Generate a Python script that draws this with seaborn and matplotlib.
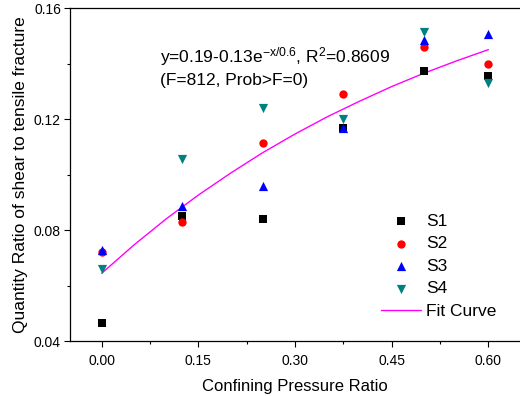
import numpy as np
import pandas as pd
import matplotlib
matplotlib.use("Agg")
import matplotlib.pyplot as plt
import seaborn as sns

# ---- data ----
pressure = [0.0, 0.125, 0.25, 0.375, 0.5, 0.6]
s1 = [0.0464, 0.0849, 0.0839, 0.1167, 0.1374, 0.1356]
s2 = [0.0722, 0.0830, 0.1115, 0.1291, 0.1458, 0.1397]
s3 = [0.0728, 0.0887, 0.0957, 0.1169, 0.1486, 0.1507]
s4 = [0.0659, 0.1055, 0.1239, 0.1200, 0.1515, 0.1329]
series_names = ["S1", "S2", "S3", "S4"]

fit_x = [0.0, 0.05, 0.1, 0.15, 0.2, 0.25, 0.3, 0.35, 0.4, 0.45, 0.5, 0.55, 0.6]
fit_y = [0.0644, 0.0746, 0.0840, 0.0926, 0.1005, 0.1079, 0.1146, 0.1208,
         0.1264, 0.1317, 0.1365, 0.1409, 0.1450]

x_ticks = [0.0, 0.15, 0.30, 0.45, 0.60]
x_tick_labels = ["0.00", "0.15", "0.30", "0.45", "0.60"]
y_ticks = [0.04, 0.08, 0.12, 0.16]
y_tick_labels = ["0.04", "0.08", "0.12", "0.16"]

sns.set_theme(style="ticks")
plt.rcParams["font.family"] = ["Liberation Sans", "DejaVu Sans"]
plt.rcParams["mathtext.fontset"] = "custom"
plt.rcParams["mathtext.rm"] = "Liberation Sans"
plt.rcParams["mathtext.default"] = "regular"

fig = plt.figure(figsize=(5.2, 3.96), dpi=100)
ax = fig.add_axes([70 / 520, 1 - 341 / 396, 450 / 520, 333 / 396])

styles = [
    dict(marker="s", color="black", s=26),
    dict(marker="o", color="red", s=36),
    dict(marker="^", color="blue", s=44),
    dict(marker="v", color="#008080", s=44),
]
values = [s1, s2, s3, s4]
for name, vals, st in zip(series_names, values, styles):
    df = pd.DataFrame({"x": pressure, "y": vals})
    sns.scatterplot(data=df, x="x", y="y", ax=ax, marker=st["marker"],
                    color=st["color"], s=st["s"], linewidth=0, label=name,
                    zorder=3)

sns.lineplot(x=fit_x, y=fit_y, ax=ax, color="#FF00FF", linewidth=1.0,
             label="Fit Curve", zorder=2)

ax.set_xlim(-0.0492, 0.649)
ax.set_ylim(0.04, 0.16)
ax.set_xticks(x_ticks)
ax.set_xticklabels(x_tick_labels)
ax.set_yticks(y_ticks)
ax.set_yticklabels(y_tick_labels)
ax.set_xticks([0.075, 0.225, 0.375, 0.525], minor=True)
ax.set_yticks([0.06, 0.10, 0.14], minor=True)
ax.tick_params(axis="both", which="major", direction="out", length=4.5,
               width=0.8, labelsize=10, colors="black", pad=2)
ax.tick_params(axis="x", which="major", pad=5)
ax.tick_params(axis="both", which="minor", direction="out", length=2.5,
               width=0.8, colors="black")

for sp in ["left", "bottom", "top"]:
    ax.spines[sp].set_color("black")
    ax.spines[sp].set_linewidth(0.9)
ax.spines["right"].set_visible(False)

ax.set_xlabel("Confining Pressure Ratio", fontsize=12, color="black", labelpad=8)
ax.set_ylabel("Quantity Ratio of shear to tensile fracture", fontsize=12.5,
              color="black", labelpad=4)

ax.text(0.0905, 0.1403, "y=0.19-0.13e$^{-x/0.6}$, R$^{2}$=0.8609",
        fontsize=12.5, color="black", va="baseline", ha="left")
ax.text(0.0905, 0.1323, "(F=812, Prob>F=0)",
        fontsize=12.5, color="black", va="baseline", ha="left")

leg = ax.legend(loc="upper left", bbox_to_anchor=(0.691, 0.382),
                frameon=False, fontsize=12.5, handlelength=2.3,
                handletextpad=0.3, labelspacing=0.42, borderpad=0,
                borderaxespad=0)
for t in leg.get_texts():
    t.set_color("black")

fig.savefig("out.png", dpi=100)
